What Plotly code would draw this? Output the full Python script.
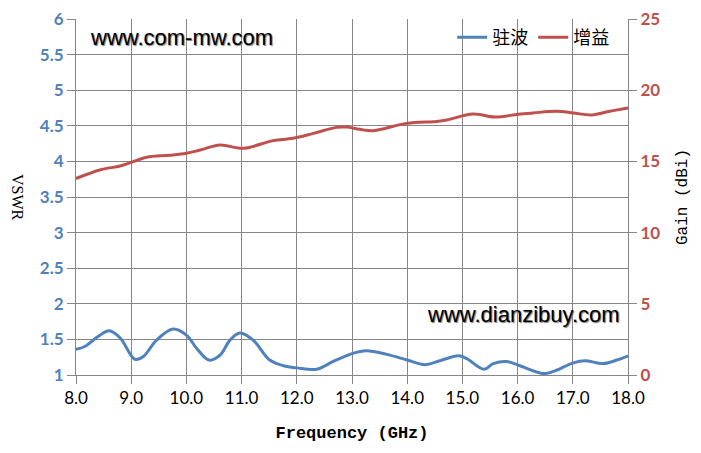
import plotly.graph_objects as go

# VSWR (驻波) series
vswr_freq = [8.0, 8.16, 8.4, 8.6, 8.8, 9.07, 9.22, 9.46, 9.76, 10.0, 10.19, 10.41, 10.61, 10.79,
             10.97, 11.21, 11.51, 11.76, 12.0, 12.36, 12.66, 13.0, 13.26, 13.63, 14.0, 14.32,
             14.59, 14.93, 15.08, 15.39, 15.56, 15.8, 16.04, 16.47, 16.65, 17.01, 17.22, 17.55,
             17.8, 18.0]
vswr_vals = [1.36, 1.40, 1.54, 1.62, 1.52, 1.22, 1.26, 1.49, 1.645, 1.56, 1.37, 1.21, 1.28, 1.49,
             1.59, 1.49, 1.21, 1.13, 1.10, 1.08, 1.19, 1.30, 1.34, 1.29, 1.21, 1.145,
             1.20, 1.27, 1.23, 1.08, 1.16, 1.19, 1.13, 1.02, 1.05, 1.17, 1.20, 1.16,
             1.21, 1.27]

# Gain (增益) series, dBi
gain_freq = [8.0, 8.43, 8.8, 9.0, 9.28, 9.7, 10.0, 10.25, 10.61, 11.03, 11.57, 11.93, 12.3,
             12.72, 12.9, 13.14, 13.39, 13.99, 14.53, 14.72, 15.19, 15.59, 16.01, 16.28, 16.7,
             17.01, 17.34, 17.67, 18.0]
gain_vals = [13.8, 14.4, 14.68, 14.93, 15.29, 15.43, 15.57, 15.8, 16.15, 15.92, 16.46, 16.62, 16.97,
             17.39, 17.41, 17.25, 17.16, 17.67, 17.81, 17.91, 18.33, 18.12, 18.31, 18.40, 18.52,
             18.40, 18.26, 18.52, 18.75]

x_ticks = [8, 9, 10, 11, 12, 13, 14, 15, 16, 17, 18]
x_tick_text = ["8.0", "9.0", "10.0", "11.0", "12.0", "13.0", "14.0", "15.0", "16.0", "17.0", "18.0"]
vswr_ticks = [1, 1.5, 2, 2.5, 3, 3.5, 4, 4.5, 5, 5.5, 6]
vswr_tick_text = ["1", "1.5", "2", "2.5", "3", "3.5", "4", "4.5", "5", "5.5", "6"]
gain_ticks = [0, 5, 10, 15, 20, 25]

BLUE = "#4F81BD"
RED = "#C0504D"
GRID = "#868686"

fig = go.Figure()
fig.add_trace(go.Scatter(x=vswr_freq, y=vswr_vals, mode="lines", name="驻波",
                         line=dict(color=BLUE, width=3, shape="spline", smoothing=1.0)))
fig.add_trace(go.Scatter(x=gain_freq, y=gain_vals, mode="lines", name="增益", yaxis="y2",
                         line=dict(color=RED, width=3, shape="spline", smoothing=1.0)))

fig.update_layout(
    width=693, height=445,
    margin=dict(l=68, r=73, t=11, b=78, autoexpand=False),
    paper_bgcolor="white", plot_bgcolor="white",
    showlegend=True,
    legend=dict(orientation="h", x=0.975, y=1.0, xanchor="right", yanchor="top",
                bgcolor="rgba(0,0,0,0)", font=dict(family="Noto Sans CJK SC", size=18, color="#000"),
                itemwidth=30, tracegroupgap=0),
    xaxis=dict(range=[8, 18], tickmode="array", tickvals=x_ticks, ticktext=x_tick_text,
               showgrid=True, gridcolor=GRID, gridwidth=1, zeroline=False,
               showline=True, linecolor=GRID, linewidth=1, automargin=False,
               ticks="outside", ticklen=8, tickcolor=GRID, ticklabeloverflow="allow",
               tickfont=dict(family="Lato", size=17, color="#000"),
               title=dict(text="Frequency (GHz)",
                          font=dict(family="Liberation Mono", size=17, color="#000", weight="bold"),
                          standoff=18)),
    yaxis=dict(range=[1, 6], tickmode="array", tickvals=vswr_ticks, ticktext=vswr_tick_text,
               showgrid=True, gridcolor=GRID, gridwidth=1, zeroline=False,
               showline=True, linecolor=GRID, linewidth=1, automargin=False,
               ticks="outside", ticklen=8, tickcolor=GRID, ticklabeloverflow="allow",
               tickfont=dict(family="Lato", size=17, color=BLUE, weight="bold")),
    yaxis2=dict(range=[0, 25], tickmode="array", tickvals=gain_ticks, overlaying="y", side="right",
                showgrid=False, zeroline=False, automargin=False,
                showline=True, linecolor=GRID, linewidth=1,
                ticks="outside", ticklen=8, tickcolor=GRID, ticklabeloverflow="allow",
                tickfont=dict(family="Lato", size=17, color=RED, weight="bold"),
                title=dict(text="Gain (dBi)", font=dict(family="Liberation Mono", size=16, color="#000"),
                           standoff=16)),
    annotations=[
        dict(text="VSWR", xref="paper", yref="paper", x=-0.105, y=0.5, textangle=90,
             xanchor="center", yanchor="middle",
             showarrow=False, font=dict(family="Liberation Serif", size=16, color="#000")),
        dict(text="www.com-mw.com", xref="paper", yref="paper", x=0.022, y=0.947,
             xanchor="left", yanchor="middle", showarrow=False,
             font=dict(family="Liberation Sans", size=22, color="#000", shadow="1px 1px 1px #777")),
        dict(text="www.dianzibuy.com", xref="paper", yref="paper", x=0.99, y=0.171,
             xanchor="right", yanchor="middle", showarrow=False,
             font=dict(family="Liberation Sans", size=22, color="#000", shadow="1px 1px 1px #777")),
    ],
)

fig.write_html("out.html")
